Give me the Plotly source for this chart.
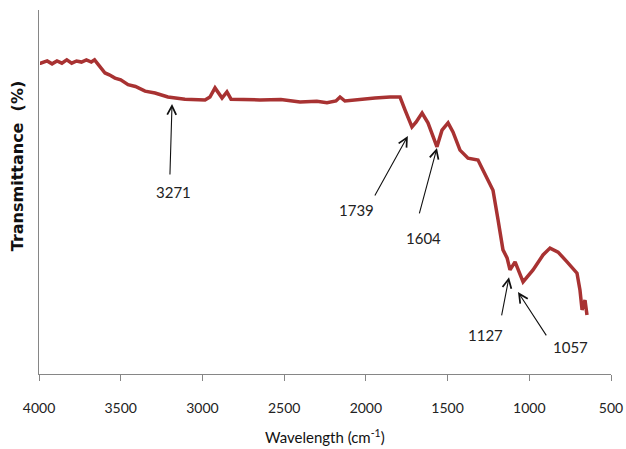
import plotly.graph_objects as go

# Spectrum (wavenumber cm-1, transmittance in arbitrary %)
wavenumber = [3994, 3990, 3950, 3920, 3890, 3860, 3830, 3800, 3770, 3740, 3710, 3680, 3660,
              3645, 3596, 3570, 3535, 3500, 3455, 3410, 3351, 3290, 3211, 3107, 2984, 2954,
              2923, 2880, 2850, 2825, 2648, 2520, 2403, 2300, 2238, 2183, 2158, 2128, 2036,
              1944, 1852, 1791, 1760, 1718, 1693, 1656, 1620, 1565, 1534, 1497, 1467, 1424,
              1375, 1314, 1283, 1222, 1191, 1161, 1136, 1118, 1087, 1038, 977, 916, 873, 824,
              769, 708, 690, 677, 659, 647]
transmittance = [85.4, 85.4, 86.0, 85.2, 86.0, 85.4, 86.3, 85.4, 86.0, 85.7, 86.3, 85.7, 86.3,
                 85.4, 82.7, 82.2, 81.3, 80.8, 79.5, 79.0, 77.7, 77.2, 76.1, 75.5, 75.3, 76.1,
                 78.6, 75.8, 77.5, 75.5, 75.3, 75.4, 74.7, 74.9, 74.5, 75.0, 76.1, 75.0, 75.5,
                 75.8, 76.1, 76.1, 72.5, 67.9, 69.2, 71.7, 69.0, 62.4, 67.0, 69.0, 66.5, 61.5,
                 59.3, 58.8, 56.0, 50.5, 42.3, 34.1, 31.9, 28.6, 30.8, 25.3, 28.6, 32.7, 34.6,
                 33.5, 30.8, 27.7, 23.1, 17.6, 20.3, 16.2]

x_ticks = [4000, 3500, 3000, 2500, 2000, 1500, 1000, 500]

# Peak labels: text, arrow tip (wn, T), arrow tail (wn, T), label centre (wn, T)
peak_labels = ["3271", "1739", "1604", "1127", "1057"]
tips = [(3186, 74.2), (1743, 65.4), (1565, 62.1), (1124, 26.6), (1069, 22.5)]
tails = [(3199, 54.4), (1950, 48.6), (1675, 43.7), (1171, 15.7), (890, 10.2)]
label_pos = [(3174, 50.0), (2060, 45.0), (1650, 37.4), (1270, 10.7), (750, 7.4)]

fig = go.Figure()
fig.add_trace(go.Scatter(
    x=wavenumber, y=transmittance, mode="lines",
    line=dict(color="#A83232", width=3.5), showlegend=False, hoverinfo="skip"))

annotations = []
for txt, tip, tail, lp in zip(peak_labels, tips, tails, label_pos):
    annotations.append(dict(
        x=tip[0], y=tip[1], ax=tail[0], ay=tail[1], xref="x", yref="y",
        axref="x", ayref="y", text="", showarrow=True, arrowhead=5,
        arrowsize=1.6, arrowwidth=1.1, arrowcolor="#111111"))
    annotations.append(dict(
        x=lp[0], y=lp[1], xref="x", yref="y", text=txt, showarrow=False,
        font=dict(family="Lato, Open Sans, sans-serif", size=15, color="#222222")))

annotations.append(dict(
    x=0.5, y=-0.172, xref="paper", yref="paper", yanchor="middle",
    text="Wavelength (cm<sup>-1</sup>)", showarrow=False,
    font=dict(family="Lato, Open Sans, sans-serif", size=15, color="#111111")))
annotations.append(dict(
    x=-0.037, y=0.573, xref="paper", yref="paper", xanchor="center", yanchor="middle",
    text="<b>Transmittance  (%)</b>", textangle=-90, showarrow=False,
    font=dict(family="DejaVu Sans, Verdana, sans-serif", size=16, color="#111111")))

fig.update_layout(
    width=626, height=449,
    margin=dict(l=39, r=15, t=10, b=75),
    paper_bgcolor="white", plot_bgcolor="white",
    annotations=annotations,
    xaxis=dict(
        range=[4000, 500], tickvals=x_ticks, ticktext=[str(t) for t in x_ticks],
        showline=True, linecolor="#868686", linewidth=1,
        ticks="outside", ticklen=6, tickcolor="#868686", showgrid=False,
        zeroline=False, ticklabelstandoff=15, automargin=False,
        ticklabeloverflow="allow",
        tickfont=dict(family="Lato, Open Sans, sans-serif", size=14, color="#222222")),
    yaxis=dict(
        range=[0, 100], showline=True, linecolor="#868686", linewidth=1,
        showticklabels=False, ticks="", showgrid=False, zeroline=False),
)

fig.write_html("out.html", config={"displayModeBar": False},
               post_script="document.body.style.margin='0px';document.body.style.overflow='hidden';")
